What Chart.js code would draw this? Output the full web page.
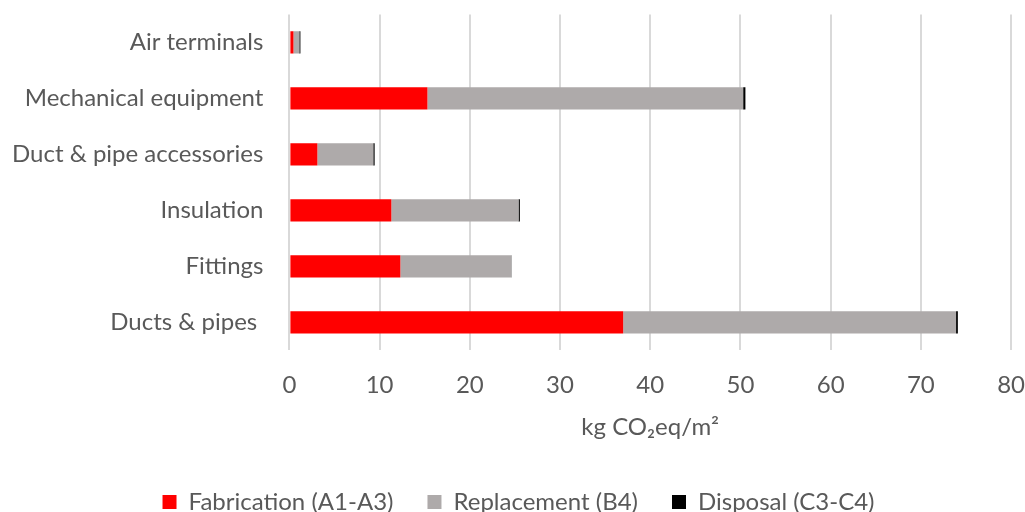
<!DOCTYPE html>
<html>
<head>
<meta charset="utf-8">
<script src="https://cdn.jsdelivr.net/npm/chart.js@4/dist/chart.umd.min.js"></script>
<style>
    html, body { margin: 0; padding: 0; background: #fff; overflow: hidden; }
    #wrap { width: 1025px; height: 524px; }
</style>
</head>
<body>
<div id="wrap"><canvas id="grafico"></canvas></div>
<script>
const categorias = ['Air terminals', 'Mechanical equipment', 'Duct & pipe accessories', 'Insulation', 'Fittings', 'Ducts & pipes '];
const fabricacao = [0.45, 15.3, 3.1, 11.3, 12.3, 37.0];
const substituicao = [0.65, 35.0, 6.2, 14.1, 12.3, 36.9];
const descarte = [0.12, 0.25, 0.15, 0.15, 0.03, 0.2];
const ticksX = [0, 10, 20, 30, 40, 50, 60, 70, 80];

const cinzaTexto = '#595959';
const fonte = 'Lato, "Open Sans", sans-serif';

const ctx = document.getElementById('grafico');

new Chart(ctx, {
    type: 'bar',
    data: {
        labels: categorias,
        datasets: [{
            label: 'Fabrication (A1-A3)',
            data: fabricacao,
            backgroundColor: '#ff0000'
        }, {
            label: 'Replacement (B4)',
            data: substituicao,
            backgroundColor: '#aeaaaa'
        }, {
            label: 'Disposal (C3-C4)',
            data: descarte,
            backgroundColor: '#000000'
        }]
    },
    options: {
        indexAxis: 'y',
        responsive: true,
        maintainAspectRatio: false,
        animation: false,
        layout: { padding: { left: 12, right: 0, top: 2, bottom: 0 } },
        datasets: {
            bar: { barPercentage: 0.4, categoryPercentage: 1.0, borderWidth: 0 }
        },
        scales: {
            x: {
                stacked: true,
                min: 0,
                max: 80,
                afterBuildTicks: function (axis) {
                    axis.ticks = ticksX.map(v => ({ value: v }));
                },
                // tick transparente no lugar do padding (padding dos ticks aumenta as margens)
                grid: { color: '#d9d9d9', lineWidth: 2, drawTicks: true, tickLength: 20, tickColor: 'rgba(0,0,0,0)' },
                border: { display: false },
                ticks: { color: cinzaTexto, font: { family: fonte, size: 24 }, padding: 0 },
                title: {
                    display: true,
                    text: 'kg CO₂eq/m²',
                    color: cinzaTexto,
                    font: { family: fonte, size: 24 },
                    padding: { top: 14, bottom: 14 }
                }
            },
            y: {
                stacked: true,
                grid: { color: 'rgba(0,0,0,0)', drawTicks: true, tickLength: 26 },
                border: { display: false },
                ticks: { color: cinzaTexto, font: { family: fonte, size: 24 }, padding: 0 }
            }
        },
        plugins: {
            legend: {
                position: 'bottom',
                labels: {
                    color: cinzaTexto,
                    font: { family: fonte, size: 24 },
                    boxWidth: 14,
                    boxHeight: 14,
                    padding: 34
                }
            },
            tooltip: { enabled: false }
        }
    }
});
</script>
</body>
</html>
